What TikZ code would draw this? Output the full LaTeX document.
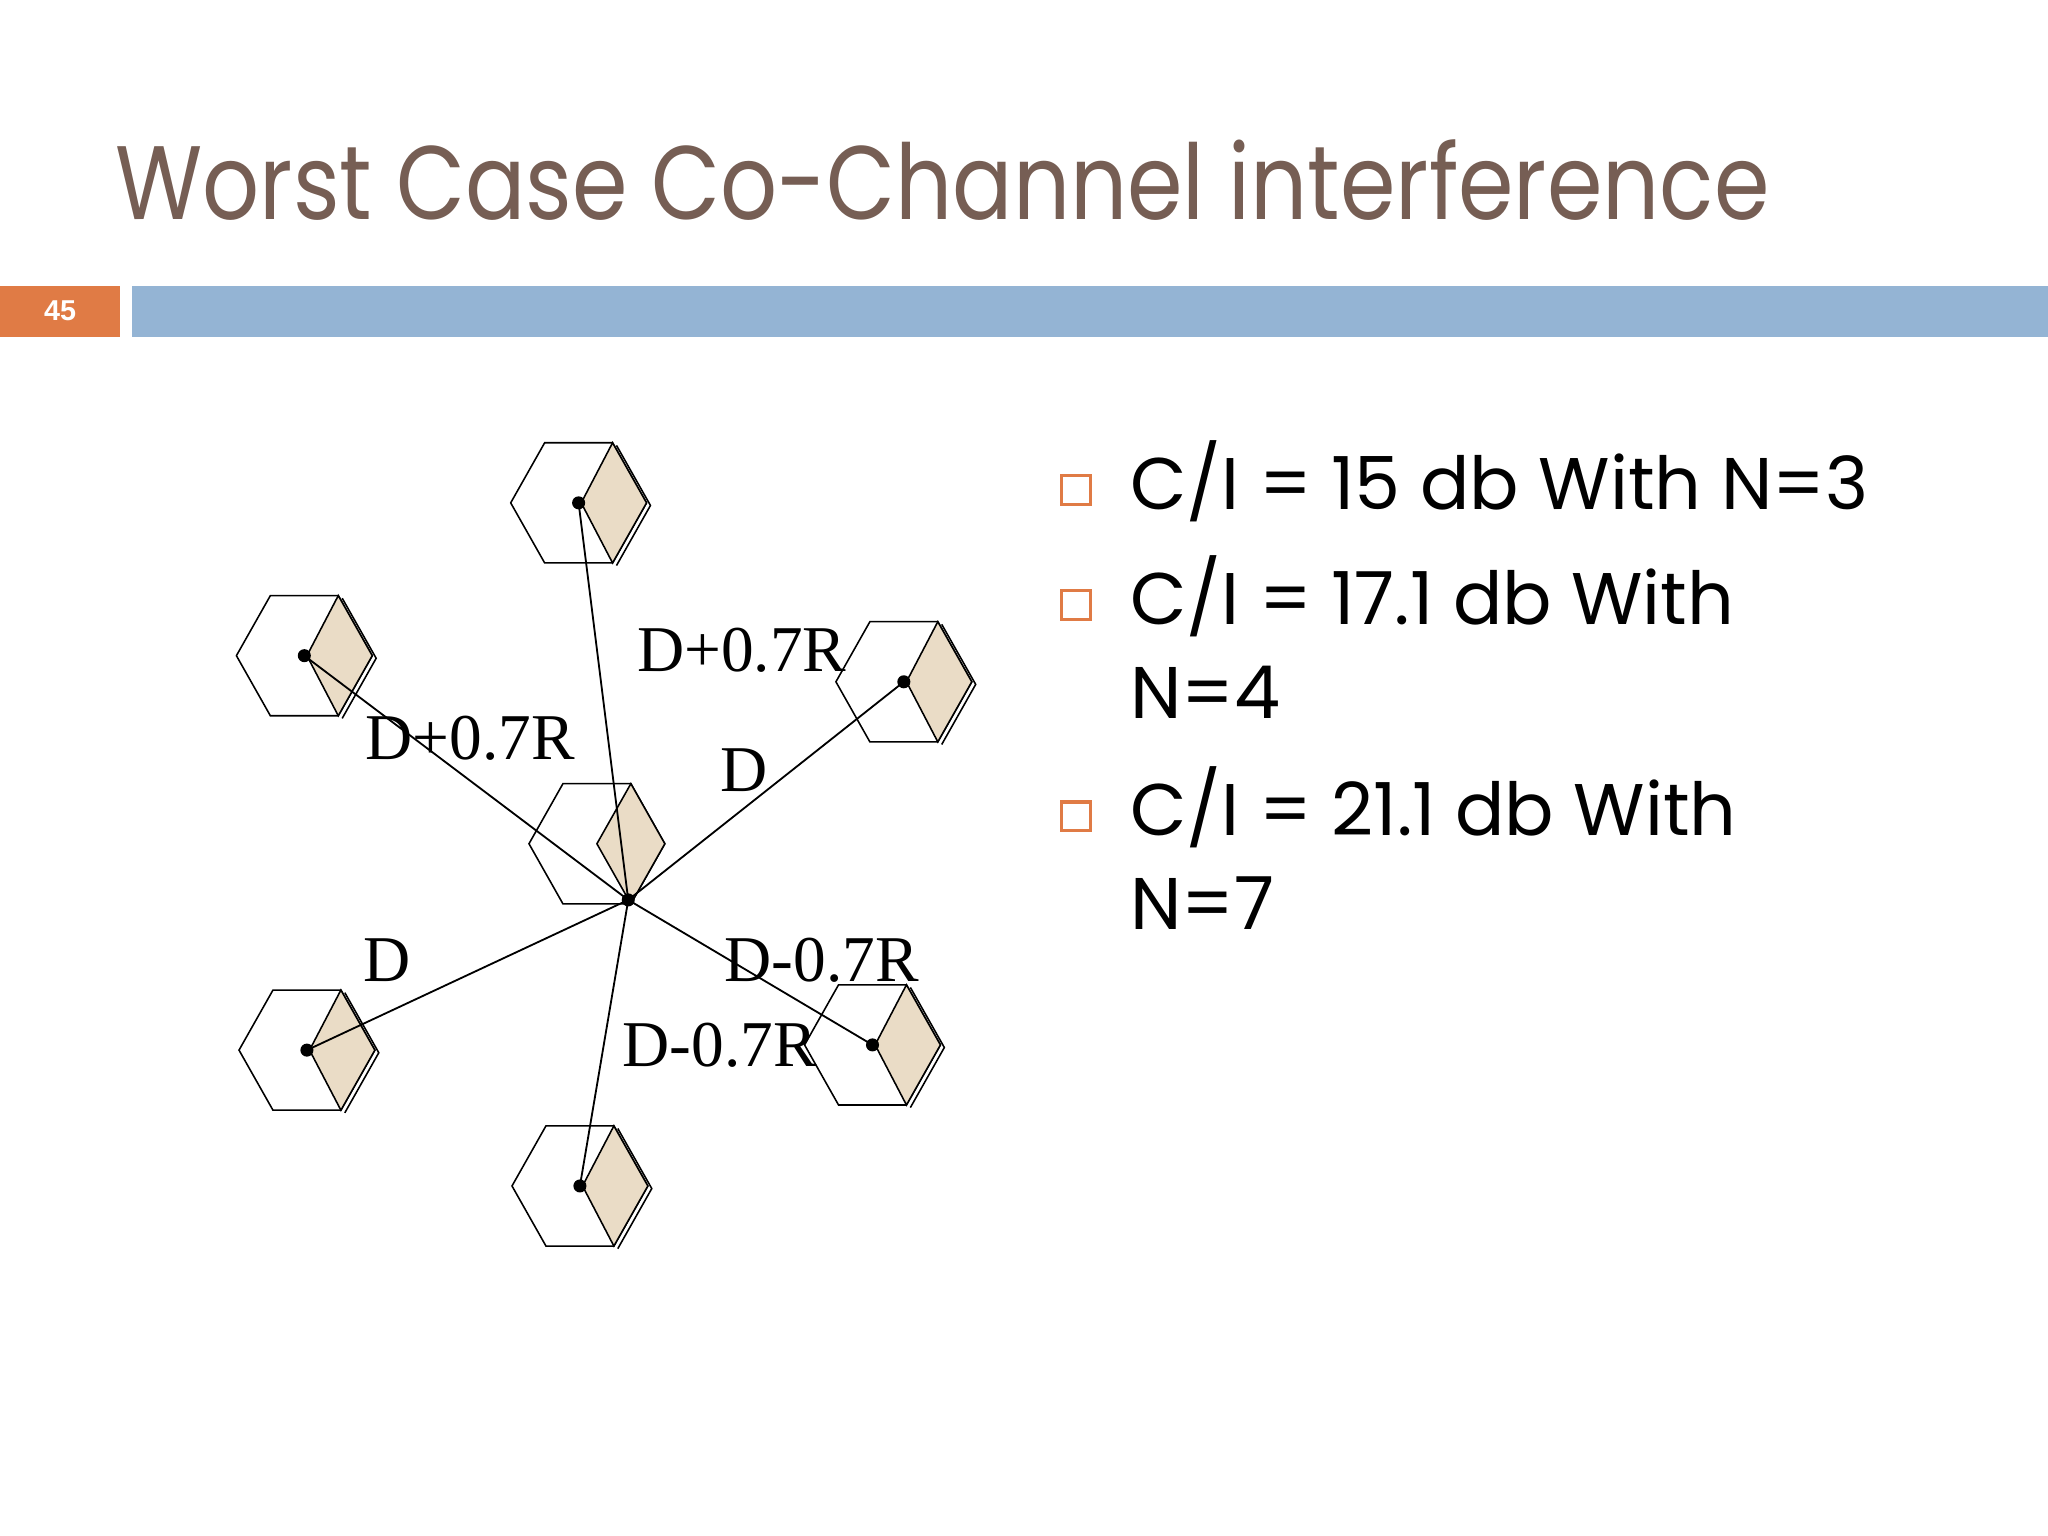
\documentclass[tikz,border=0pt]{standalone}
\usepackage{fontspec}
\setmainfont{Liberation Serif}
\newfontfamily\geo{Poppins}
\newfontfamily\arial{Liberation Sans}
\definecolor{titlec}{HTML}{765E54}
\definecolor{orng}{HTML}{E07B45}
\definecolor{barc}{HTML}{94B4D4}
\definecolor{dfill}{HTML}{EADCC6}
\begin{document}
\begin{tikzpicture}[x=0.5pt,y=-0.5pt,
  lbl/.style={font=\fontsize{25}{27}\selectfont,inner sep=0pt},
  bul/.style={font=\geo\fontsize{28}{30}\selectfont,anchor=base west,inner sep=0pt},
  sq/.style={draw=orng,line width=1.2pt,minimum size=11pt,inner sep=0pt}]
\useasboundingbox (0,0) rectangle (1568,1176);
\fill[white] (0,0) rectangle (1568,1176);
\node[font=\geo\fontsize{40}{44}\selectfont,text=titlec,anchor=base west,inner sep=0pt,xscale=0.855,transform shape] (title) at (88,168) {Worst Case Co-Channel interference};
\fill[orng] (0,219) rectangle (92,258);
\node[font=\arial\bfseries\fontsize{11}{12}\selectfont,text=white] (num) at (46,238) {45};
\fill[barc] (101,219) rectangle (1568,258);
\newcommand{\cell}[3]{%
  \begin{scope}[shift={(#1,#2)}]
  \draw[black,line width=0.6pt] (-52,0)--(-26,-46)--(26,-46)--(52,0)--(26,46)--(-26,46)--cycle;
  \draw[black,line width=0.6pt] (29,-44)--(55,2)--(29,48);
  \filldraw[fill=dfill,draw=black,line width=0.6pt] (2,0)--(26,-46)--(52,0)--(26,46)--cycle;
  \fill (0,0) circle (2.5pt);
  \coordinate (#3) at (0,0);
  \end{scope}}
\cell{443}{385}{t}
\cell{233}{502}{ul}
\cell{692}{522}{ur}
\cell{235}{804}{ll}
\cell{444}{908}{b}
\cell{668}{800}{lr}
\begin{scope}[shift={(457,646)}]
  \draw[line width=0.6pt] (-52,0)--(-26,-46)--(26,-46)--(52,0)--(26,46)--(-26,46)--cycle;
  \filldraw[fill=dfill,draw=black,line width=0.6pt] (0,0)--(26,-46)--(52,0)--(26,46)--cycle;
\end{scope}
\coordinate (c) at (481,689);
\fill (c) circle (2.5pt);
\foreach \p in {t,ul,ur,ll,b,lr} \draw[line width=0.7pt] (c)--(\p);
\node[lbl] (l1) at (568,498) {D+0.7R};
\node[lbl] (l2) at (360,565) {D+0.7R};
\node[lbl] (l3) at (570,590) {D};
\node[lbl] (l4) at (296,735) {D};
\node[lbl] (l5) at (629,735) {D-0.7R};
\node[lbl] (l6) at (551,800) {D-0.7R};
\node[sq] (s1) at (824,375) {};
\node[sq] (s2) at (824,463) {};
\node[sq] (s3) at (824,625) {};
\node[bul] (b1) at (865,390) {C/I = 15 db With N=3};
\node[bul] (b2) at (865,478) {C/I = 17.1 db With};
\node[bul] (b3) at (865,550) {N=4};
\node[bul] (b4) at (865,640) {C/I = 21.1 db With};
\node[bul] (b5) at (865,712) {N=7};
\end{tikzpicture}
\end{document}
